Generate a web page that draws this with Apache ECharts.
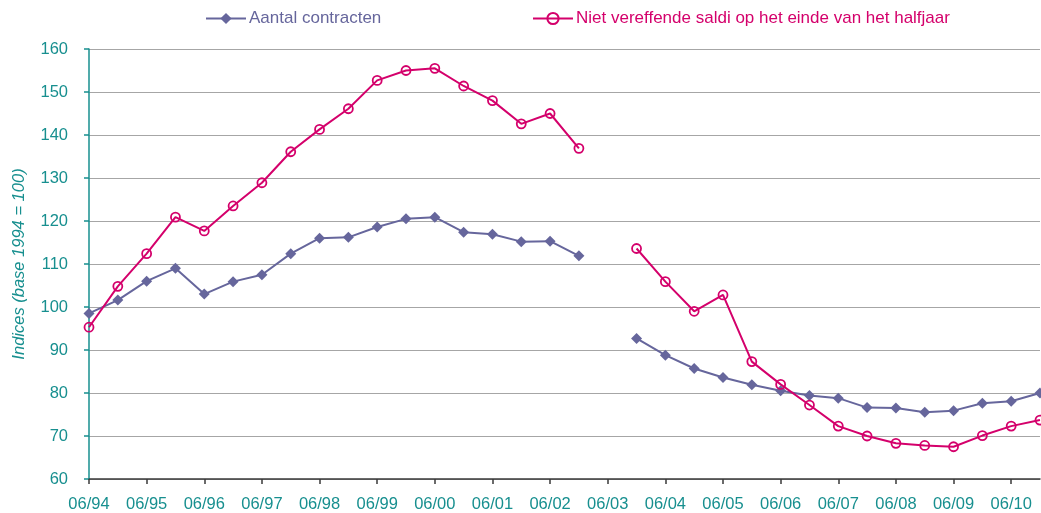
<!DOCTYPE html>
<html>
<head>
<meta charset="utf-8">
<script src="https://cdn.jsdelivr.net/npm/echarts@6/dist/echarts.min.js"></script>
<style>
html,body{margin:0;padding:0;background:#fff;}
#c{width:1041px;height:513px;}
</style>
</head>
<body>
<div id="c"></div>
<script>
const categories = [
  '06/94','12/94','06/95','12/95','06/96','12/96','06/97','12/97','06/98','12/98',
  '06/99','12/99','06/00','12/00','06/01','12/01','06/02','12/02','06/03','12/03',
  '06/04','12/04','06/05','12/05','06/06','12/06','06/07','12/07','06/08','12/08',
  '06/09','12/09','06/10','12/10'
];
const aantalContracten = [
  98.5, 101.6, 106.0, 109.0, 103.0, 105.9, 107.5, 112.4, 116.0, 116.2,
  118.6, 120.5, 120.9, 117.4, 116.9, 115.2, 115.3, 111.9, null, 92.7,
  88.8, 85.7, 83.6, 81.9, 80.5, 79.4, 78.8, 76.6, 76.5, 75.5,
  75.9, 77.6, 78.1, 80.0
];
const nietVereffendeSaldi = [
  95.3, 104.8, 112.4, 120.9, 117.7, 123.5, 128.9, 136.1, 141.3, 146.1,
  152.7, 155.0, 155.5, 151.4, 148.0, 142.6, 145.0, 136.9, null, 113.6,
  105.9, 99.0, 102.8, 87.3, 82.0, 77.2, 72.3, 70.0, 68.3, 67.8,
  67.5, 70.1, 72.3, 73.7
];
const seriesNames = ['Aantal contracten', 'Niet vereffende saldi op het einde van het halfjaar'];
const yTicks = { min: 60, max: 160, interval: 10 };

const teal = '#178f8f';
const c1 = '#66669c';
const c2 = '#d4006b';
const font = 'Liberation Sans, Arial, sans-serif';

const chart = echarts.init(document.getElementById('c'), null, {renderer: 'canvas'});
chart.setOption({
  animation: false,
  textStyle: { fontFamily: font },
  legend: [
    {
      left: 200, top: 5, itemWidth: 40, itemHeight: 14,
      data: [{ name: seriesNames[0], textStyle: { color: c1 } }],
      textStyle: { fontSize: 17, fontFamily: font, padding: [0,0,0,-2] }
    },
    {
      left: 527, top: 5, itemWidth: 40, itemHeight: 14,
      data: [{ name: seriesNames[1], textStyle: { color: c2 } }],
      textStyle: { fontSize: 17, fontFamily: font, padding: [0,0,0,-2] }
    }
  ],
  grid: { left: 89, right: 1, top: 49, bottom: 33, containLabel: false },
  xAxis: {
    type: 'category',
    data: categories,
    boundaryGap: false,
    axisLine: { lineStyle: { color: '#3a3a3a', width: 1.5 } },
    axisTick: { show: true, interval: 1, length: 5, lineStyle: { color: '#3a3a3a', width: 1.5 } },
    axisLabel: { interval: 1, color: teal, fontSize: 16.5, margin: 17, fontFamily: font },
    splitLine: { show: false }
  },
  yAxis: {
    type: 'value',
    min: yTicks.min, max: yTicks.max, interval: yTicks.interval,
    name: 'Indices (base 1994 = 100)',
    nameLocation: 'middle',
    nameRotate: 90,
    nameGap: 61,
    nameTextStyle: { color: teal, fontSize: 16.5, fontStyle: 'italic', fontFamily: font },
    axisLine: { show: true, lineStyle: { color: teal, width: 1.5 } },
    axisTick: { show: true, length: 5, lineStyle: { color: teal, width: 1.5 } },
    axisLabel: { color: teal, fontSize: 16.5, margin: 21, fontFamily: font },
    splitLine: { show: true, lineStyle: { color: '#a6a6a6', width: 1.2 } }
  },
  series: [
    {
      name: seriesNames[0], type: 'line', data: aantalContracten,
      connectNulls: false, symbol: 'diamond', symbolSize: 11,
      lineStyle: { color: c1, width: 2 },
      itemStyle: { color: c1 },
      z: 2
    },
    {
      name: seriesNames[1], type: 'line', data: nietVereffendeSaldi,
      connectNulls: false, symbol: 'circle', symbolSize: 9,
      lineStyle: { color: c2, width: 2 },
      itemStyle: { color: 'rgba(255,255,255,0)', borderColor: c2, borderWidth: 1.8 },
      z: 3
    }
  ]
});
</script>
</body>
</html>
